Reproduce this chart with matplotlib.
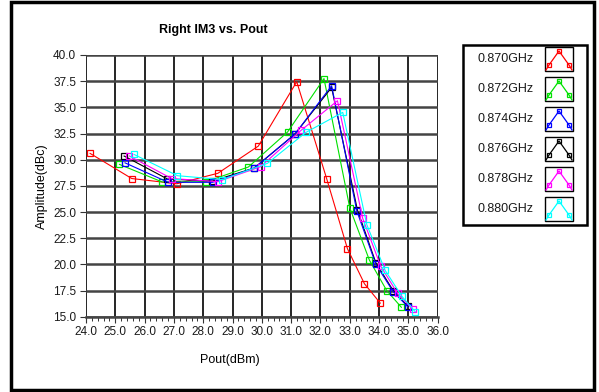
import matplotlib
matplotlib.use("Agg")
import matplotlib.pyplot as plt
from matplotlib.lines import Line2D
from matplotlib.patches import Rectangle
from matplotlib.ticker import MultipleLocator, FormatStrFormatter

# Pout (dBm) / IM3 (dBc), one pair of lists per frequency
pout_870 = [24.14, 25.56, 27.10, 28.50, 29.88, 31.19, 32.21, 32.92, 33.50, 34.04]
im3_870 = [30.6, 28.2, 27.7, 28.7, 31.3, 37.45, 28.2, 21.5, 18.15, 16.3]

pout_872 = [25.14, 26.60, 28.10, 29.54, 30.88, 32.12, 33.00, 33.67, 34.26, 34.76]
im3_872 = [29.55, 27.87, 27.9, 29.3, 32.65, 37.75, 25.4, 20.4, 17.5, 15.9]

pout_874 = [25.33, 26.80, 28.32, 29.74, 31.13, 32.38, 33.24, 33.89, 34.48, 34.98]
im3_874 = [29.7, 27.84, 27.84, 29.2, 32.45, 37.06, 25.1, 20.0, 17.4, 15.95]

pout_876 = [25.30, 26.78, 28.30, 29.74, 31.13, 32.38, 33.26, 33.89, 34.48, 34.98]
im3_876 = [30.35, 28.15, 27.95, 29.2, 32.45, 36.9, 25.2, 20.15, 17.5, 16.0]

pout_878 = [25.48, 26.92, 28.50, 29.96, 31.35, 32.58, 33.44, 34.06, 34.63, 35.15]
im3_878 = [30.35, 28.2, 27.9, 29.33, 32.83, 35.63, 24.4, 19.8, 17.23, 15.7]

pout_880 = [25.64, 27.12, 28.65, 30.19, 31.50, 32.76, 33.58, 34.20, 34.77, 35.23]
im3_880 = [30.5, 28.47, 28.1, 29.65, 32.6, 34.52, 23.8, 19.46, 16.98, 15.48]

labels = ["0.870GHz", "0.872GHz", "0.874GHz", "0.876GHz", "0.878GHz", "0.880GHz"]
colors = ["#ff0000", "#00e000", "#0000ff", "#000000", "#ff00ff", "#00ffff"]
series = [(pout_870, im3_870), (pout_872, im3_872), (pout_874, im3_874),
          (pout_876, im3_876), (pout_878, im3_878), (pout_880, im3_880)]

W, H = 599, 392
plt.rcParams['font.family'] = ['Liberation Sans', 'DejaVu Sans']

fig = plt.figure(figsize=(W / 100, H / 100), dpi=100)


def fx(px):
    return px / W


def fy(py):
    return 1 - py / H


ax = fig.add_axes([fx(86), fy(316.7), fx(437.7) - fx(86), fy(55) - fy(316.7)])

# draw black before blue so blue sits on top like in the reference
order = [0, 1, 3, 2, 4, 5]
for i in order:
    x, y = series[i]
    ax.plot(x, y, color=colors[i], lw=0.8, marker='s', ms=4, mfc='none',
            mec=colors[i], mew=0.9, zorder=3)

ax.set_xlim(24, 36)
ax.set_ylim(15, 40)
ax.xaxis.set_major_locator(MultipleLocator(1))
ax.xaxis.set_minor_locator(MultipleLocator(0.2))
ax.yaxis.set_major_locator(MultipleLocator(2.5))
ax.xaxis.set_major_formatter(FormatStrFormatter('%.1f'))
ax.yaxis.set_major_formatter(FormatStrFormatter('%.1f'))
ax.tick_params(axis='both', which='major', labelsize=8.5, direction='out',
               length=4, width=0.8, colors='#333', labelcolor='#1a1a1a', pad=3)
ax.tick_params(axis='x', which='minor', direction='out', length=3, width=0.7,
               colors='#333')
ax.xaxis.grid(True, color='black', lw=1.2)
ax.yaxis.grid(True, color='#444', lw=1.8)
ax.set_axisbelow(True)
for s in ax.spines.values():
    s.set_visible(False)
ax.spines['bottom'].set_visible(True)
ax.spines['bottom'].set_linewidth(1.8)
ax.spines['bottom'].set_color('#444')

fig.text(fx(213), fy(30), "Right IM3 vs. Pout", ha='center', va='center',
         fontsize=9, fontweight='bold')
fig.text(fx(230), fy(360), "Pout(dBm)", ha='center', va='center', fontsize=9)
fig.text(fx(42), fy(186), "Amplitude(dBc)", ha='center', va='center',
         fontsize=9, rotation=90)

# outer frame
fig.add_artist(Rectangle((fx(11), fy(390)), fx(594) - fx(11), fy(2) - fy(390),
                         transform=fig.transFigure, fill=False, ec='black', lw=2.5))

# legend box drawn by hand (LabVIEW style)
fig.add_artist(Rectangle((fx(463), fy(225)), fx(587) - fx(463), fy(45) - fy(225),
                         transform=fig.transFigure, fill=False, ec='black', lw=1.8))
for k, (lab, c) in enumerate(zip(labels, colors)):
    top = 47 + 30 * k
    bot = top + 24
    mid = (top + bot) / 2
    fig.text(fx(534), fy(mid), lab, ha='right', va='center', fontsize=9,
             color='#1a1a1a')
    fig.add_artist(Rectangle((fx(545), fy(bot)), fx(573) - fx(545), fy(top) - fy(bot),
                             transform=fig.transFigure, fill=False, ec='black', lw=1.0))
    xs = [fx(546), fx(549), fx(559), fx(569), fx(572)]
    ys = [fy(bot - 1), fy(bot - 6), fy(top + 4), fy(bot - 6), fy(bot - 1)]
    fig.add_artist(Line2D(xs, ys, transform=fig.transFigure, color=c, lw=0.9))
    fig.add_artist(Line2D(xs[1:4], ys[1:4], transform=fig.transFigure, ls='none',
                          marker='s', ms=3.5, mfc='none', mec=c, mew=0.9))

fig.savefig("out.png", dpi=100)
